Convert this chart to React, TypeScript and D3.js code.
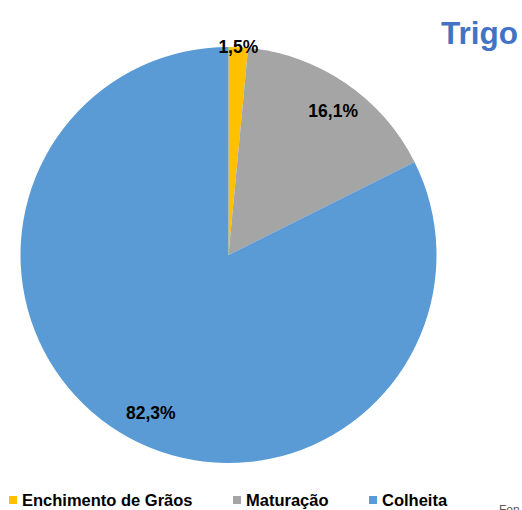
import React from "react";
import * as d3 from "d3";

const categories = ["Enchimento de Grãos", "Maturação", "Colheita"];
const values = [1.5, 16.1, 82.3];
const labels = ["1,5%", "16,1%", "82,3%"];
const colors = ["#FFC000", "#A5A5A5", "#5B9BD5"];
const title = "Trigo";

export default function App() {
  const W = 522, H = 510;
  const cx = 228.5, cy = 255, r = 208;
  const pie = d3.pie<number>().sort(null).value((d) => d)(values);
  const arc = d3.arc<d3.PieArcDatum<number>>().innerRadius(0).outerRadius(r);
  const labelRadii = [208, 178, 176];
  const labelShift = [0, 1.6, -5.5];
  const legendX = [9, 233, 369];
  const font = "'Liberation Sans', Arial, sans-serif";
  return (
    <svg width={W} height={H} style={{ position: "absolute", left: 0, top: 0 }}>
      <rect width={W} height={H} fill="#fff" />
      <g transform={`translate(${cx},${cy})`}>
        {pie.map((p, i) => (
          <path key={i} d={arc(p) || ""} fill={colors[i]} />
        ))}
        {pie.map((p, i) => {
          const a = (p.startAngle + p.endAngle) / 2 + (labelShift[i] * Math.PI) / 180;
          const lr = labelRadii[i];
          const x = Math.sin(a) * lr;
          const y = -Math.cos(a) * lr;
          return (
            <text key={i} x={x} y={y} textAnchor="middle" dominantBaseline="central"
              fontFamily={font} fontWeight="bold" fontSize={17.5} fill="#000">{labels[i]}</text>
          );
        })}
      </g>
      <text x={441} y={44} fontFamily={font} fontWeight="bold" fontSize={31.5} fill="#4472C4">{title}</text>
      {categories.map((c, i) => (
        <g key={i}>
          <rect x={legendX[i]} y={496} width={8} height={8} fill={colors[i]} />
          <text x={legendX[i] + 13} y={506} fontFamily={font} fontWeight="bold" fontSize={16.5} fill="#000">{c}</text>
        </g>
      ))}
      <text x={499} y={514} fontFamily={font} fontSize={12} fill="#595959">Fon</text>
    </svg>
  );
}
